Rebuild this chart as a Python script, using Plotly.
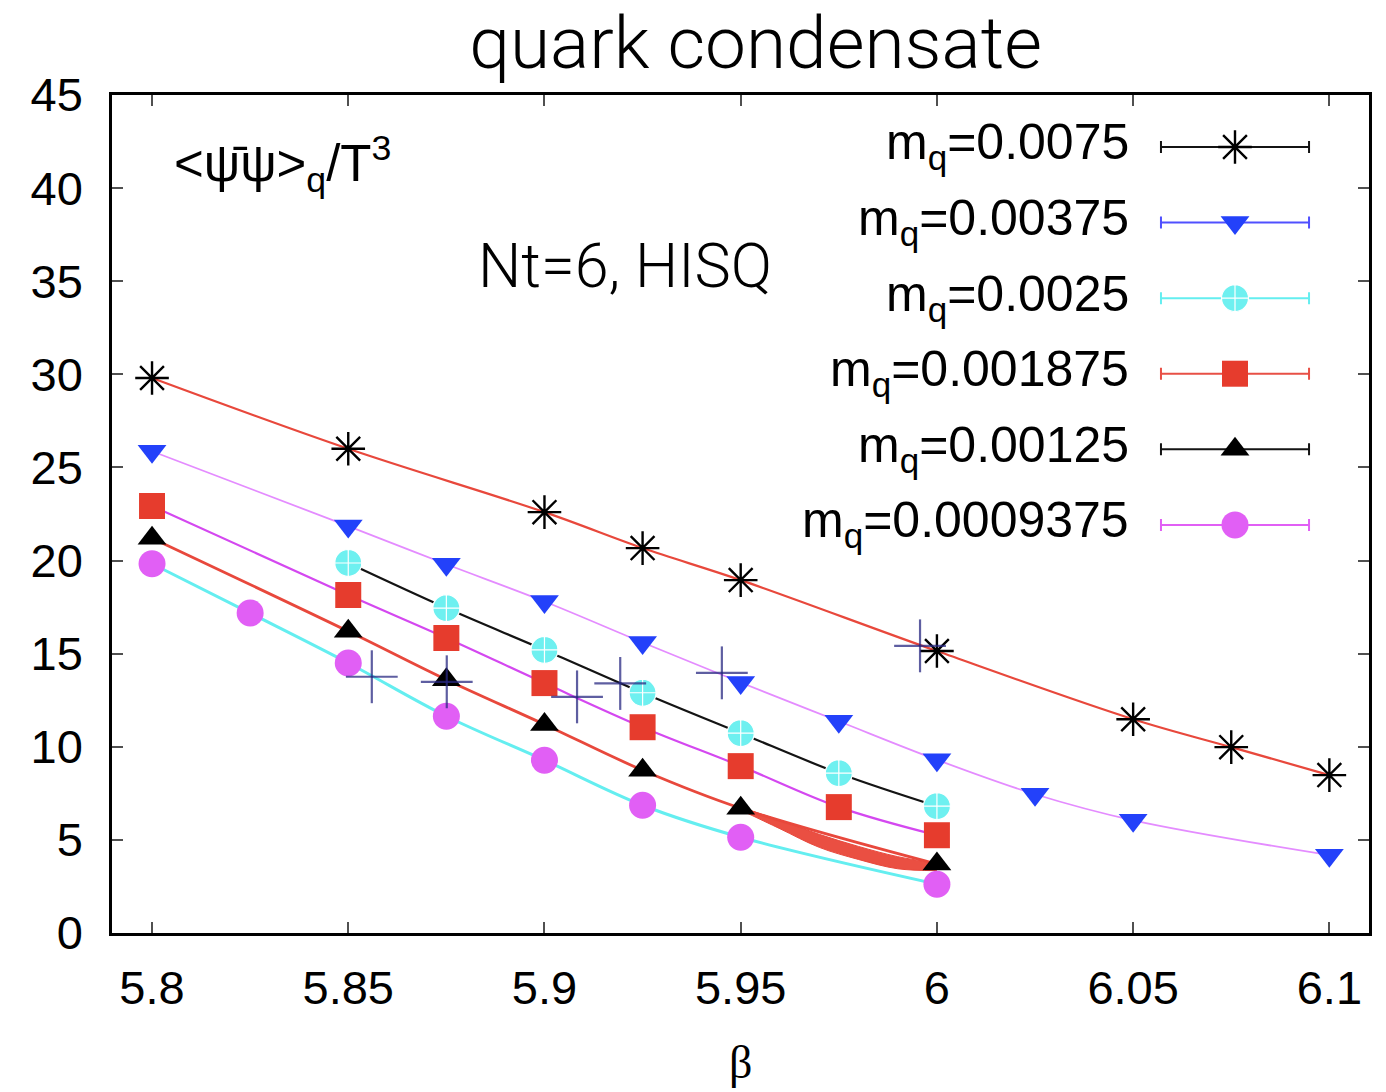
import plotly.graph_objects as go

# ---------------- data ----------------
labels = ["m<sub>q</sub>=0.0075", "m<sub>q</sub>=0.00375", "m<sub>q</sub>=0.0025",
          "m<sub>q</sub>=0.001875", "m<sub>q</sub>=0.00125", "m<sub>q</sub>=0.0009375"]

beta_0075 = [5.8, 5.85, 5.9, 5.925, 5.95, 6.0, 6.05, 6.075, 6.1]
pbp_0075 = [29.8, 26.0, 22.6, 20.67, 18.95, 15.14, 11.48, 9.98, 8.48]

beta_00375 = [5.8, 5.85, 5.875, 5.9, 5.925, 5.95, 5.975, 6.0, 6.025, 6.05, 6.1]
pbp_00375 = [25.87, 21.85, 19.8, 17.8, 15.6, 13.45, 11.37, 9.3, 7.45, 6.05, 4.18]

beta_0025 = [5.85, 5.875, 5.9, 5.925, 5.95, 5.975, 6.0]
pbp_0025 = [19.87, 17.45, 15.2, 12.9, 10.73, 8.58, 6.81]

beta_001875 = [5.8, 5.85, 5.875, 5.9, 5.925, 5.95, 5.975, 6.0]
pbp_001875 = [22.93, 18.15, 15.84, 13.42, 11.05, 8.96, 6.76, 5.25]

beta_00125 = [5.8, 5.85, 5.875, 5.9, 5.925, 5.95, 6.0]
pbp_00125 = [21.2, 16.2, 13.6, 11.2, 8.74, 6.7, 3.7]

beta_0009375 = [5.8, 5.825, 5.85, 5.875, 5.9, 5.925, 5.95, 6.0]
pbp_0009375 = [19.83, 17.18, 14.5, 11.64, 9.28, 6.86, 5.14, 2.62]

# error band of the m_q=0.00125 fit near beta=6
band_beta = [5.95, 5.96, 5.97, 5.98, 5.99, 6.0]
band_hi = [6.75, 6.05, 5.3, 4.65, 4.1, 3.75]
band_lo = [6.6, 5.6, 4.6, 3.95, 3.45, 3.35]

# pseudo-critical points (navy crosses)
pc_beta = [5.856, 5.8751, 5.9083, 5.9193, 5.9452, 5.9957]
pc_val = [13.76, 13.49, 12.68, 13.40, 13.97, 15.42]
pc_beta_err = [0.0066] * 6
pc_val_err = [1.42] * 6

x_ticks = [5.8, 5.85, 5.9, 5.95, 6.0, 6.05, 6.1]
x_ticklabels = ["5.8", "5.85", "5.9", "5.95", "6", "6.05", "6.1"]
y_ticks = [0, 5, 10, 15, 20, 25, 30, 35, 40, 45]

# ---------------- styles ----------------
RED = "rgb(232,72,60)"
VIOLET = "rgb(228,140,255)"
MAGENTA = "rgb(212,72,240)"
CYAN = "rgb(100,238,240)"
BLUE = "rgb(35,65,250)"
SANS = "Liberation Sans, Arial, sans-serif"
LIGHT = "Roboto, Liberation Sans, Arial, sans-serif"

series = [
    dict(x=beta_0075, y=pbp_0075, line=dict(color=RED, width=2.2),
         marker=dict(symbol="asterisk-open", size=28, color="black",
                     line=dict(color="rgb(30,30,30)", width=2.4)), legcol="rgb(20,20,20)"),
    dict(x=beta_00375, y=pbp_00375, line=dict(color=VIOLET, width=1.8),
         marker=dict(symbol="triangle-down", size=25, color=BLUE, line=dict(width=0)),
         legcol="rgb(80,80,255)"),
    dict(x=beta_0025, y=pbp_0025, line=dict(color="rgb(20,20,20)", width=2.2),
         marker=dict(symbol="circle-cross", size=27, color="rgb(110,240,240)",
                     line=dict(color="white", width=1.2)), legcol=CYAN),
    dict(x=beta_001875, y=pbp_001875, line=dict(color=MAGENTA, width=2.2),
         marker=dict(symbol="square", size=26, color="rgb(230,60,45)", line=dict(width=0)),
         legcol="rgb(232,80,70)"),
    dict(x=beta_00125, y=pbp_00125, line=dict(color=RED, width=2.8),
         marker=dict(symbol="triangle-up", size=25, color="black", line=dict(width=0)),
         legcol="rgb(20,20,20)"),
    dict(x=beta_0009375, y=pbp_0009375, line=dict(color=CYAN, width=3),
         marker=dict(symbol="circle", size=27, color="rgb(225,95,245)", line=dict(width=0)),
         legcol="rgb(225,95,245)"),
]

fig = go.Figure()

# error band
fig.add_trace(go.Scatter(x=band_beta, y=band_hi, mode="lines",
                         line=dict(color=RED, width=1, shape="spline"),
                         showlegend=False, hoverinfo="skip"))
fig.add_trace(go.Scatter(x=band_beta, y=band_lo, mode="lines",
                         line=dict(color=RED, width=1, shape="spline"),
                         fill="tonexty", fillcolor="rgba(232,60,45,0.9)",
                         showlegend=False, hoverinfo="skip"))

# fit lines
for s in series:
    fig.add_trace(go.Scatter(x=s["x"], y=s["y"], mode="lines",
                             line=dict(shape="spline", smoothing=1.0, **s["line"]),
                             showlegend=False, hoverinfo="skip"))
# markers
for s, lab in zip(series, labels):
    fig.add_trace(go.Scatter(x=s["x"], y=s["y"], mode="markers", marker=s["marker"],
                             name=lab, showlegend=False))

# pseudo-critical crosses
fig.add_trace(go.Scatter(
    x=pc_beta, y=pc_val, mode="markers", marker=dict(size=1, color="rgba(40,40,130,0.8)"),
    error_x=dict(type="data", array=pc_beta_err, width=0, thickness=2.2, color="rgba(40,40,130,0.75)"),
    error_y=dict(type="data", array=pc_val_err, width=0, thickness=2.2, color="rgba(40,40,130,0.75)"),
    showlegend=False))

# ---- custom legend (text left, sample right) on an overlay 0..1 axis ----
leg_x = 0.8934
leg_half = 0.0589
leg_top = 0.938
leg_step = 0.0902
for i, (s, lab) in enumerate(zip(series, labels)):
    yy = leg_top - i * leg_step
    fig.add_trace(go.Scatter(
        x=[leg_x], y=[yy], xaxis="x2", yaxis="y2", mode="markers",
        marker=s["marker"],
        error_x=dict(type="constant", value=leg_half, width=6, thickness=2, color=s["legcol"]),
        showlegend=False, hoverinfo="skip"))
    fig.add_annotation(x=0.8105, y=yy, xref="paper", yref="paper", text=lab,
                       showarrow=False, xanchor="right", yanchor="middle", yshift=1,
                       font=dict(family=SANS, size=50, color="black"))

# other texts
fig.add_annotation(x=0.0477, y=0.918, xref="paper", yref="paper",
                   text="&lt;ψ\u0304ψ&gt;<sub>q</sub>/T<sup>3</sup>",
                   showarrow=False, xanchor="left", yanchor="middle",
                   font=dict(family=SANS, size=51, color="black"))
fig.add_annotation(x=0.408, y=0.796, xref="paper", yref="paper", text="Nt=6, HISQ",
                   showarrow=False, xanchor="center", yanchor="middle",
                   font=dict(family=LIGHT, size=61, color="black", weight=300))
fig.add_annotation(x=0.5, y=-0.1545, xref="paper", yref="paper", text="β",
                   showarrow=False, xanchor="center", yanchor="middle",
                   font=dict(family="Liberation Serif, serif", size=46, color="black"))

axis_common = dict(showgrid=False, zeroline=False, showline=True, linecolor="black",
                   linewidth=2.5, mirror="allticks", ticks="inside", ticklen=11,
                   tickwidth=2, tickcolor="rgb(80,80,80)",
                   tickfont=dict(family=SANS, size=47, color="black"))

fig.update_layout(
    width=1386, height=1092,
    margin=dict(l=112, r=17, t=95, b=159),
    paper_bgcolor="white", plot_bgcolor="white",
    title=dict(text="quark condensate", x=0.512, xref="paper", xanchor="center",
               y=0.961, yref="container", yanchor="middle",
               font=dict(family=LIGHT, size=73, color="black", weight=300)),
    xaxis=dict(range=[5.7898, 6.1101], tickvals=x_ticks, ticktext=x_ticklabels,
               ticklabelstandoff=12, **axis_common),
    yaxis=dict(range=[0, 45], tickvals=y_ticks, ticklabelstandoff=17, **axis_common),
    xaxis2=dict(range=[0, 1], overlaying="x", visible=False, domain=[0, 1]),
    yaxis2=dict(range=[0, 1], overlaying="y", visible=False),
    showlegend=False,
)

fig.write_html("out.html")
